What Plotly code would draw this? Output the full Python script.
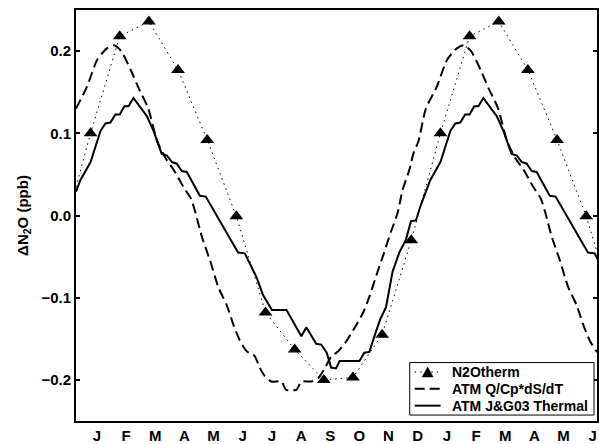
import plotly.graph_objects as go

# Month letters along the time axis (18 months shown, Jan -> Jun of the following year)
months = ["J", "F", "M", "A", "M", "J", "J", "A", "S", "O", "N", "D"]
month_labels = months + months[:6]

# N2Otherm: monthly climatology (ppb), plotted at mid-month
n2o_therm = [0.100, 0.218, 0.236, 0.177, 0.092, -0.001,
             -0.118, -0.163, -0.200, -0.197, -0.145, -0.030]

# ATM Q/Cp*dS/dT: one annual cycle, time in months since 1 Jan
qcp_time = [0.00, 0.38, 0.72, 1.05, 1.30, 1.55, 1.88, 2.16, 2.47, 2.79,
            3.10, 3.36, 3.68, 3.95, 4.10, 4.31, 4.60, 4.88, 5.17, 5.40,
            5.62, 5.85, 6.13, 6.30, 6.47, 6.70, 7.05, 7.20, 7.56, 7.73,
            8.07, 8.30, 8.50, 8.75, 9.00, 9.27, 9.60, 9.85, 10.06, 10.30,
            10.55, 10.80, 11.03, 11.20, 11.43, 11.57, 11.75, 12.00]
qcp_val = [0.130, 0.157, 0.189, 0.203, 0.207, 0.200, 0.177, 0.154, 0.131, 0.090,
           0.068, 0.055, 0.035, 0.020, 0.003, -0.025, -0.055, -0.087, -0.109, -0.133,
           -0.152, -0.165, -0.171, -0.185, -0.195, -0.202, -0.202, -0.212, -0.212, -0.202,
           -0.202, -0.198, -0.188, -0.172, -0.165, -0.153, -0.134, -0.118, -0.099, -0.073,
           -0.047, -0.020, 0.003, 0.031, 0.055, 0.075, 0.091, 0.130]

# ATM J&G03 Thermal: one annual cycle, time in months since 1 Jan
jg_time = [0.00, 0.15, 0.50, 0.64, 0.84, 1.01, 1.18, 1.35, 1.50, 1.66,
           1.80, 1.97, 2.43, 2.66, 2.94, 3.12, 3.29, 3.46, 3.63, 3.80,
           4.25, 4.45, 5.56, 5.79, 6.19, 6.42, 6.72, 7.22, 7.73, 7.90,
           8.24, 8.41, 8.60, 8.75, 8.92, 9.04, 9.72, 9.89, 10.06, 10.29,
           10.45, 10.63, 10.86, 11.09, 11.32, 11.49, 11.66, 11.83, 12.00]
jg_val = [0.029, 0.043, 0.065, 0.081, 0.103, 0.112, 0.113, 0.123, 0.123, 0.133,
          0.133, 0.143, 0.121, 0.103, 0.075, 0.073, 0.065, 0.063, 0.054, 0.053,
          0.024, 0.023, -0.045, -0.046, -0.075, -0.097, -0.115, -0.115, -0.147, -0.136,
          -0.156, -0.157, -0.167, -0.185, -0.186, -0.177, -0.177, -0.167, -0.166, -0.141,
          -0.125, -0.112, -0.068, -0.045, -0.029, -0.007, -0.006, 0.013, 0.029]

y_ticks = [-0.2, -0.1, 0.0, 0.1, 0.2]
y_ticktext = ["\u22120.2", "\u22120.1", "0.0", "0.1", "0.2"]

series_names = ["N2Otherm", "ATM Q/Cp*dS/dT", "ATM J&G03 Thermal"]

X_MAX = 17.87

# figure / plot-area geometry in pixels
W, H = 599, 444
ML, MR, MT, MB = 76, 0, 10, 19
PW, PH = W - ML - MR, H - MT - MB


def px(x, y):
    """Pixel position -> paper coordinates."""
    return (x - ML) / PW, (H - MB - y) / PH


def repeat_cycle(t, v, years=2):
    """Lay an annual cycle end to end for the given number of years."""
    xs, ys = [], []
    for yr in range(years):
        for i, (a, b) in enumerate(zip(t, v)):
            if yr > 0 and i == 0:
                continue
            xs.append(a + 12 * yr)
            ys.append(b)
    return xs, ys


# monthly points, padded by one month on each side so the line reaches the frame
therm_x = [m + 0.5 for m in range(-1, 19)]
therm_y = [n2o_therm[m % 12] for m in range(-1, 19)]

qcp_x, qcp_y = repeat_cycle(qcp_time, qcp_val)
jg_x, jg_y = repeat_cycle(jg_time, jg_val)

FONT = "Liberation Sans, Arial, Helvetica, sans-serif"
DOT = "1.5px,4px"
DASH = "10px,5px"

fig = go.Figure()
fig.add_trace(go.Scatter(
    x=therm_x, y=therm_y, name=series_names[0], mode="lines+markers",
    line=dict(color="black", width=1, dash=DOT),
    marker=dict(symbol="triangle-up", size=12, color="black"),
    showlegend=False,
))
fig.add_trace(go.Scatter(
    x=qcp_x, y=qcp_y, name=series_names[1], mode="lines",
    line=dict(color="black", width=2, dash=DASH, shape="spline", smoothing=0.6),
    showlegend=False,
))
fig.add_trace(go.Scatter(
    x=jg_x, y=jg_y, name=series_names[2], mode="lines",
    line=dict(color="black", width=2),
    showlegend=False,
))

# compact legend box in the lower-right corner
shapes = []
annotations = []
bx0, by0 = px(411, 366)
bx1, by1 = px(596, 419)
shapes.append(dict(type="rect", xref="paper", yref="paper", x0=bx0, x1=bx1,
                   y0=by1, y1=by0, line=dict(color="black", width=1),
                   fillcolor="white", layer="above"))
row_y = [375.5, 392.5, 409.5]
sample_styles = [dict(width=1, dash=DOT), dict(width=2, dash=DASH), dict(width=2)]
for name, ry, st in zip(series_names, row_y, sample_styles):
    sx0, sy = px(416, ry)
    sx1, _ = px(442, ry)
    shapes.append(dict(type="line", xref="paper", yref="paper", x0=sx0, x1=sx1,
                       y0=sy, y1=sy, line=dict(color="black", **st), layer="above"))
    tx, ty = px(451, ry)
    annotations.append(dict(text=name, x=tx, y=ty, xref="paper", yref="paper",
                            xanchor="left", yanchor="middle", showarrow=False,
                            font=dict(family=FONT, size=14, color="black", weight="bold")))
# triangle symbol on the first legend row
(ax, ay), (bx, by), (cx, cy) = px(423.5, 380.5), px(434.5, 380.5), px(429, 370.5)
shapes.append(dict(type="path", xref="paper", yref="paper",
                   path=f"M {ax},{ay} L {bx},{by} L {cx},{cy} Z",
                   fillcolor="black", line=dict(color="black", width=0.5), layer="above"))

tick_font = dict(family=FONT, size=15, color="black", weight="bold")

fig.update_layout(
    width=W, height=H,
    margin=dict(l=ML, r=MR, t=MT, b=MB),
    paper_bgcolor="white", plot_bgcolor="white",
    font=dict(family=FONT, color="black"),
    showlegend=False,
    shapes=shapes,
    annotations=annotations,
    xaxis=dict(
        range=[0, X_MAX], showgrid=False, zeroline=False,
        tickvals=[k + 0.72 for k in range(len(month_labels))],
        ticktext=month_labels, ticks="", tickfont=tick_font,
        showline=True, linecolor="black", linewidth=2, mirror=True,
    ),
    xaxis2=dict(
        range=[0, X_MAX], overlaying="x", anchor="y", side="bottom",
        showgrid=False, zeroline=False, showticklabels=False,
        tickvals=list(range(1, 18)), ticks="inside", ticklen=4,
        tickwidth=1.5, tickcolor="black",
        showline=True, linecolor="black", linewidth=2, mirror="ticks",
    ),
    yaxis=dict(
        range=[-0.25, 0.25], showgrid=False, zeroline=False,
        tickvals=y_ticks, ticktext=y_ticktext, tickfont=tick_font,
        ticks="inside", ticklen=4, tickwidth=1.5, tickcolor="black",
        showline=True, linecolor="black", linewidth=2, mirror="ticks",
        title=dict(text="\u0394N<sub>2</sub>O (ppb)",
                   font=dict(family=FONT, size=15, color="black", weight="bold"),
                   standoff=9),
    ),
)

fig.write_html("out.html")
